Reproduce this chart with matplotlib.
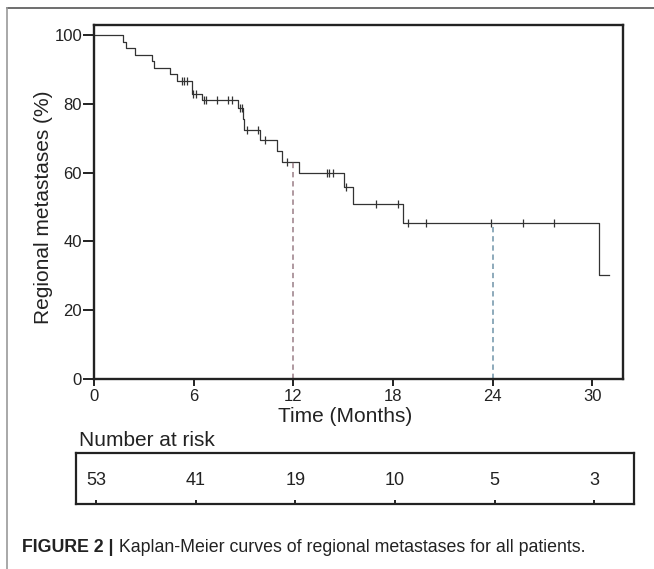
import matplotlib
matplotlib.use('Agg')
import matplotlib.pyplot as plt
from matplotlib.lines import Line2D

plt.rcParams['font.family'] = ['Liberation Sans', 'DejaVu Sans']

# Kaplan-Meier 曲线
step_time = [0, 1.77, 1.95, 2.45, 3.48, 3.62, 4.58, 4.98, 5.92, 6.48, 8.7, 8.98, 9.05,
             10.0, 11.0, 11.3, 12.36, 15.07, 15.57, 18.58, 30.37, 30.97]
step_surv = [100, 98.1, 96.2, 94.3, 92.5, 90.6, 88.7, 86.8, 83.0, 81.1, 78.7, 75.6, 72.4,
             69.5, 66.4, 63.2, 59.8, 55.9, 50.9, 45.3, 30.2, 30.2]

# 删失点
cens_time = [5.28, 5.42, 5.6, 5.98, 6.12, 6.62, 6.75, 7.39, 8.09, 8.29, 8.82, 8.9,
             9.2, 9.85, 10.3, 11.6, 14.0, 14.16, 14.4, 15.15, 16.97, 18.3,
             18.88, 19.96, 23.89, 25.8, 27.67]
cens_surv = [86.8, 86.8, 86.8, 83.0, 83.0, 81.1, 81.1, 81.1, 81.1, 81.1, 78.7, 78.7,
             72.4, 72.4, 69.5, 63.2, 59.8, 59.8, 59.8, 55.9, 50.9, 50.9,
             45.3, 45.3, 45.3, 45.3, 45.3]

# 12 个月和 24 个月的参考线
ref_time = [12, 24]
ref_surv = [63.2, 45.3]
ref_color = ['#9a7d86', '#6f93a8']

risk_time = [0, 6, 12, 18, 24, 30]
risk_n = [53, 41, 19, 10, 5, 3]

x_ticks = [0, 6, 12, 18, 24, 30]
y_ticks = [0, 20, 40, 60, 80, 100]

W, H = 654, 569
fig = plt.figure(figsize=(W / 100, H / 100), dpi=100)

ax = fig.add_axes([93.9 / W, 1 - 379 / H, 529.1 / W, 354.3 / H])
ax.step(step_time, step_surv, where='post', color='#333333', lw=0.9)
ax.plot(cens_time, cens_surv, ls='none', marker='|', ms=6, mew=0.9, color='#333333')
for t, s, c in zip(ref_time, ref_surv, ref_color):
    ax.plot([t, t], [0, s], ls=(0, (3.5, 2.5)), color=c, lw=1.1)

ax.set_xlim(0, 31.84)
ax.set_ylim(0, 103.05)
ax.set_xticks(x_ticks)
ax.set_yticks(y_ticks)
for sp in ax.spines.values():
    sp.set_linewidth(1.7)
    sp.set_color('#222222')
ax.tick_params(axis='y', length=8, width=1.4, pad=0.5, labelsize=12, colors='#222222')
ax.tick_params(axis='x', length=5, width=1.4, pad=2.5, labelsize=12, colors='#222222')

fig.text(44 / W, 1 - 207.5 / H, 'Regional metastases (%)', rotation=90,
         ha='center', va='center', fontsize=15, color='#222222')
fig.text(345 / W, 1 - 416 / H, 'Time (Months)', ha='center', va='center',
         fontsize=15, color='#222222')

# 风险人数表
fig.text(79 / W, 1 - 440 / H, 'Number at risk', ha='left', va='center',
         fontsize=15, color='#222222')
ax2 = fig.add_axes([76 / W, 1 - 504 / H, 558 / W, 51 / H])
ax2.set_xlim(-1.2, 32.4)
ax2.set_ylim(0, 1)
for t, n in zip(risk_time, risk_n):
    ax2.text(t, 0.46, str(n), ha='center', va='center', fontsize=13, color='#222222')
ax2.set_xticks(risk_time)
ax2.set_yticks([])
ax2.tick_params(axis='x', direction='in', length=3, width=1.2, labelbottom=False)
for sp in ax2.spines.values():
    sp.set_linewidth(1.6)
    sp.set_color('#222222')

# 外框线
fig.add_artist(Line2D([7 / W, 1], [1 - 8 / H, 1 - 8 / H], transform=fig.transFigure,
                      color='#555555', lw=1.2))
fig.add_artist(Line2D([7 / W, 7 / W], [0, 1 - 8 / H], transform=fig.transFigure,
                      color='#9a9a9a', lw=1.2))

# 图注
t1 = fig.text(22 / W, 1 - 548 / H, 'FIGURE 2 |', fontsize=12.8, weight='bold',
              ha='left', va='center', color='#222222')
fig.canvas.draw()
bb = t1.get_window_extent()
fig.text(bb.x1 / W, 1 - 548 / H, ' Kaplan-Meier curves of regional metastases for all patients.',
         fontsize=12.8, ha='left', va='center', color='#222222')

fig.savefig('out.png', dpi=100)
